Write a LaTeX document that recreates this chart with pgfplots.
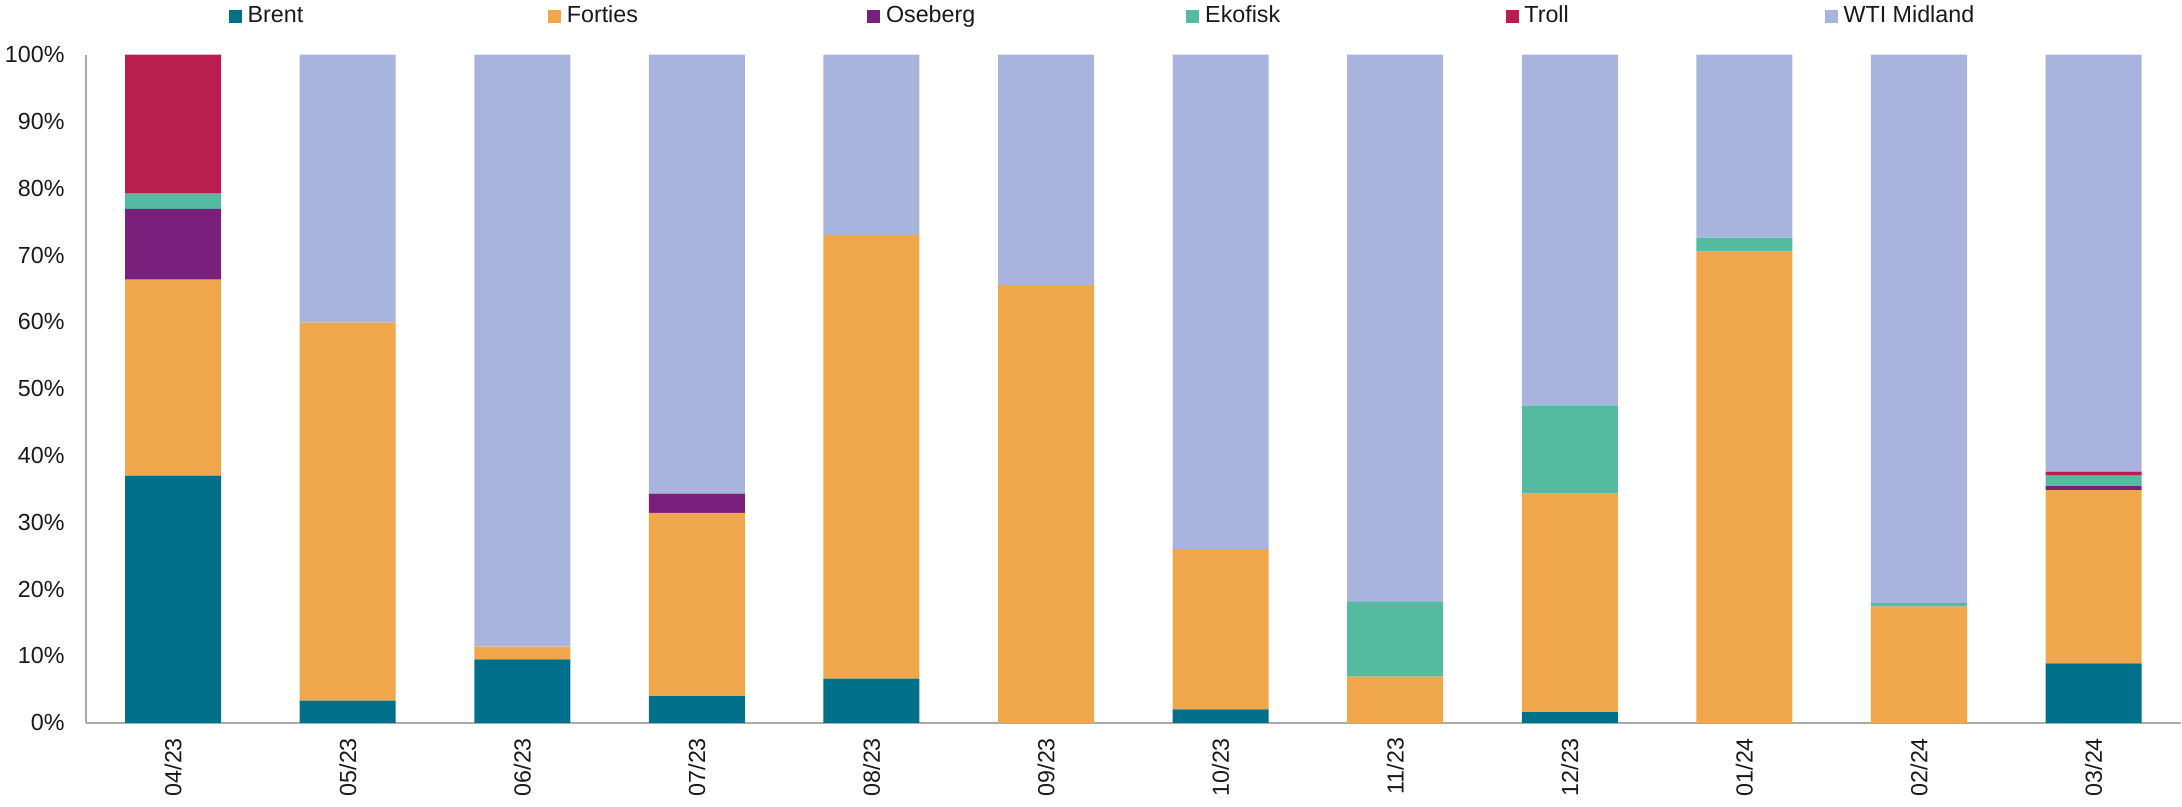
\documentclass[border=0pt]{standalone}
\usepackage{pgfplots}
\pgfplotsset{compat=1.18}
\usepackage{pgfplotstable}
\usepackage{fontspec}
\setmainfont{Liberation Sans}

\definecolor{brent}{RGB}{0,111,137}
\definecolor{forties}{RGB}{240,166,74}
\definecolor{oseberg}{RGB}{120,32,124}
\definecolor{ekofisk}{RGB}{84,186,160}
\definecolor{troll}{RGB}{185,30,78}
\definecolor{wti}{RGB}{169,180,222}
\definecolor{axisgray}{RGB}{170,170,170}

% share of each grade per month (%)
\pgfplotstableread{
x  Brent Forties Oseberg Ekofisk Troll WTI
0  37.0  29.3    10.6    2.3     20.8  0
1  3.3   56.6    0       0       0     40.1
2  9.5   1.9     0       0       0     88.6
3  4.0   27.4    2.9     0       0     65.7
4  6.6   66.4    0       0       0     27.0
5  0     65.5    0       0       0     34.5
6  2.0   24.0    0       0       0     74.0
7  0     6.9     0       11.2    0     81.9
8  1.6   32.7    0       13.1    0     52.6
9  0     70.5    0       2.1     0     27.4
10 0     17.4    0       0.5     0     82.1
11 8.9   25.9    0.6     1.6     0.6   62.4
}\shares

\begin{document}
\begin{tikzpicture}[font=\fontsize{8}{9.6}\selectfont]
\begin{axis}[
    scale only axis,
    width=25.3cm, height=8.07cm,
    ybar stacked,
    bar width=0.55,
    xmin=-0.5, xmax=11.5,
    ymin=0, ymax=100,
    xtick=data,
    xticklabels={04/23,05/23,06/23,07/23,08/23,09/23,10/23,11/23,12/23,01/24,02/24,03/24},
    xticklabel style={rotate=90, anchor=east},
    xticklabel shift=0.06cm,
    ytick={0,10,...,100},
    yticklabel={\pgfmathprintnumber{\tick}\%},
    yticklabel style={inner xsep=0.06cm},
    yticklabel shift=0.19cm,
    /pgf/number format/assume math mode=true,
    major tick length=0pt,
    axis lines=left,
    axis line style={-, axisgray, line width=0.8pt},
    tick label style={text=black!90},
    legend columns=6,
    legend style={draw=none, fill=none, inner sep=0pt,
        at={(0.068,1.057)}, anchor=west, text=black!90,
        /tikz/every even column/.append style={column sep=0pt}},
    legend image code/.code={\fill[#1] (0cm,-0.085cm) rectangle (0.157cm,0.072cm);},
]
\addplot[fill=brent, draw=none] table[x=x, y=Brent] {\shares};
\addlegendentry{\makebox[3.557cm][l]{Brent}}
\addplot[fill=forties, draw=none] table[x=x, y=Forties] {\shares};
\addlegendentry{\makebox[3.557cm][l]{Forties}}
\addplot[fill=oseberg, draw=none] table[x=x, y=Oseberg] {\shares};
\addlegendentry{\makebox[3.557cm][l]{Oseberg}}
\addplot[fill=ekofisk, draw=none] table[x=x, y=Ekofisk] {\shares};
\addlegendentry{\makebox[3.557cm][l]{Ekofisk}}
\addplot[fill=troll, draw=none] table[x=x, y=Troll] {\shares};
\addlegendentry{\makebox[3.557cm][l]{Troll}}
\addplot[fill=wti, draw=none] table[x=x, y=WTI] {\shares};
\addlegendentry{WTI Midland}
\end{axis}
\end{tikzpicture}
\end{document}
